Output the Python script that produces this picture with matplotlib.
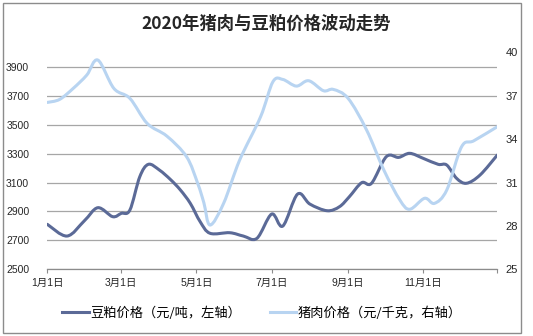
import matplotlib
matplotlib.use("Agg")
import matplotlib.pyplot as plt
import numpy as np
from matplotlib.path import Path
from matplotlib.patches import PathPatch, Rectangle
from matplotlib.lines import Line2D

plt.rcParams['font.family'] = ['Liberation Sans', 'Noto Sans CJK SC', 'DejaVu Sans']

# ---- data ----
title = "2020年猪肉与豆粕价格波动走势"
x_tick_days = [0, 60, 121, 182, 244, 305, 365]
x_tick_labels = ["1月1日", "3月1日", "5月1日", "7月1日", "9月1日", "11月1日", ""]
left_ticks = [2500, 2700, 2900, 3100, 3300, 3500, 3700, 3900]
right_ticks = [25, 28, 31, 34, 37, 40]

soy_days = [0, 16, 30, 41, 53, 60, 67, 75, 82, 91, 100, 108, 116, 124, 132, 148,
            159, 170, 182, 191, 203, 213, 227, 237, 245, 255, 263, 275, 285, 294,
            305, 317, 324, 332, 340, 351, 365]
soy_price = [2811, 2730, 2835, 2926, 2864, 2887, 2910, 3140, 3226, 3186, 3120, 3048,
             2956, 2829, 2749, 2753, 2730, 2714, 2882, 2799, 3020, 2951, 2905, 2933,
             3002, 3099, 3095, 3279, 3274, 3302, 3267, 3226, 3221, 3129, 3095, 3152, 3290]

pork_days = [0, 10, 21, 32, 41, 54, 67, 81, 97, 113, 122, 127, 132, 143, 156, 173,
             183, 191, 202, 212, 224, 232, 244, 259, 273, 286, 294, 306, 314, 324,
             336, 346, 365]
pork_price = [36.54, 36.75, 37.51, 38.43, 39.47, 37.51, 36.82, 35.09, 34.21, 32.78,
              30.94, 29.6, 28.06, 29.56, 32.55, 35.55, 37.97, 38.13, 37.67, 38.04,
              37.35, 37.44, 36.82, 34.63, 31.86, 29.79, 29.15, 29.91, 29.56, 30.48,
              33.47, 33.89, 34.86]

soy_label = "豆粕价格（元/吨，左轴）"
pork_label = "猪肉价格（元/千克，右轴）"
soy_color = "#5B6A97"
pork_color = "#B8D4F1"


def smooth_path(xs, ys):
    xs = np.asarray(xs, float)
    ys = np.asarray(ys, float)
    pts = np.column_stack([xs, ys])
    n = len(pts)
    verts = [pts[0]]
    codes = [Path.MOVETO]
    for i in range(n - 1):
        p0 = pts[i - 1] if i > 0 else pts[i]
        p1 = pts[i]
        p2 = pts[i + 1]
        p3 = pts[i + 2] if i + 2 < n else pts[i + 1]
        c1 = p1 + (p2 - p0) / 6.0
        c2 = p2 - (p3 - p1) / 6.0
        verts += [c1, c2, p2]
        codes += [Path.CURVE4] * 3
    return Path(verts, codes)


W, H = 533, 336
fig = plt.figure(figsize=(W / 100, H / 100), dpi=100)
fig.patch.set_facecolor("white")
fig.patches.append(Rectangle((3 / W, 1 - 333 / H), (521 - 3) / W, (333 - 3) / H,
                             transform=fig.transFigure, fill=False,
                             edgecolor="#8C8C8C", linewidth=1.0))

ax = fig.add_axes([47.3 / W, 1 - 269.3 / H, (497.3 - 47.3) / W, (269.3 - 52.4) / H])
ax2 = ax.twinx()

ax.set_xlim(0, 365)
ax.set_ylim(2500, 4000)
ax2.set_ylim(25, 40)

ax.set_yticks(left_ticks)
ax2.set_yticks(right_ticks)
ax.set_xticks(x_tick_days)
ax.set_xticklabels(x_tick_labels)

ax.grid(axis='y', color="#A6A6A6", linewidth=0.9)
ax.set_axisbelow(True)

for a in (ax, ax2):
    for s in ("left", "right", "top"):
        a.spines[s].set_visible(False)
    a.spines["bottom"].set_visible(False)
ax.spines["bottom"].set_visible(True)
ax.spines["bottom"].set_color("#8C8C8C")
ax.spines["bottom"].set_linewidth(0.9)

ax.tick_params(axis='y', length=0, pad=13, labelsize=7.5, labelcolor="#262626")
ax2.tick_params(axis='y', length=0, pad=6, labelsize=8, labelcolor="#262626")
ax.tick_params(axis='x', length=3, width=0.8, color="#8C8C8C", pad=3,
               labelsize=7.5, labelcolor="#262626")

ax.add_patch(PathPatch(smooth_path(soy_days, soy_price), fill=False,
                       edgecolor=soy_color, linewidth=2.2, capstyle='round',
                       joinstyle='round', transform=ax.transData, zorder=3))
ax2.add_patch(PathPatch(smooth_path(pork_days, pork_price), fill=False,
                        edgecolor=pork_color, linewidth=2.2, capstyle='round',
                        joinstyle='round', transform=ax2.transData, zorder=3))

fig.text(0.5, 1 - 24 / H, title, ha='center', va='center', fontsize=12.5,
         fontweight='bold', family=['Noto Sans CJK SC'], color="#262626")

handles = [Line2D([], [], color=soy_color, linewidth=2.2),
           Line2D([], [], color=pork_color, linewidth=2.2)]
fig.legend(handles, [soy_label, pork_label], loc='center',
           bbox_to_anchor=(262 / W, 1 - 313 / H), ncol=2, frameon=False,
           prop={'family': ['Noto Sans CJK SC'], 'size': 9.5},
           handlelength=2.0, handletextpad=0.1, columnspacing=2.2)

fig.savefig("out.png", dpi=100)
